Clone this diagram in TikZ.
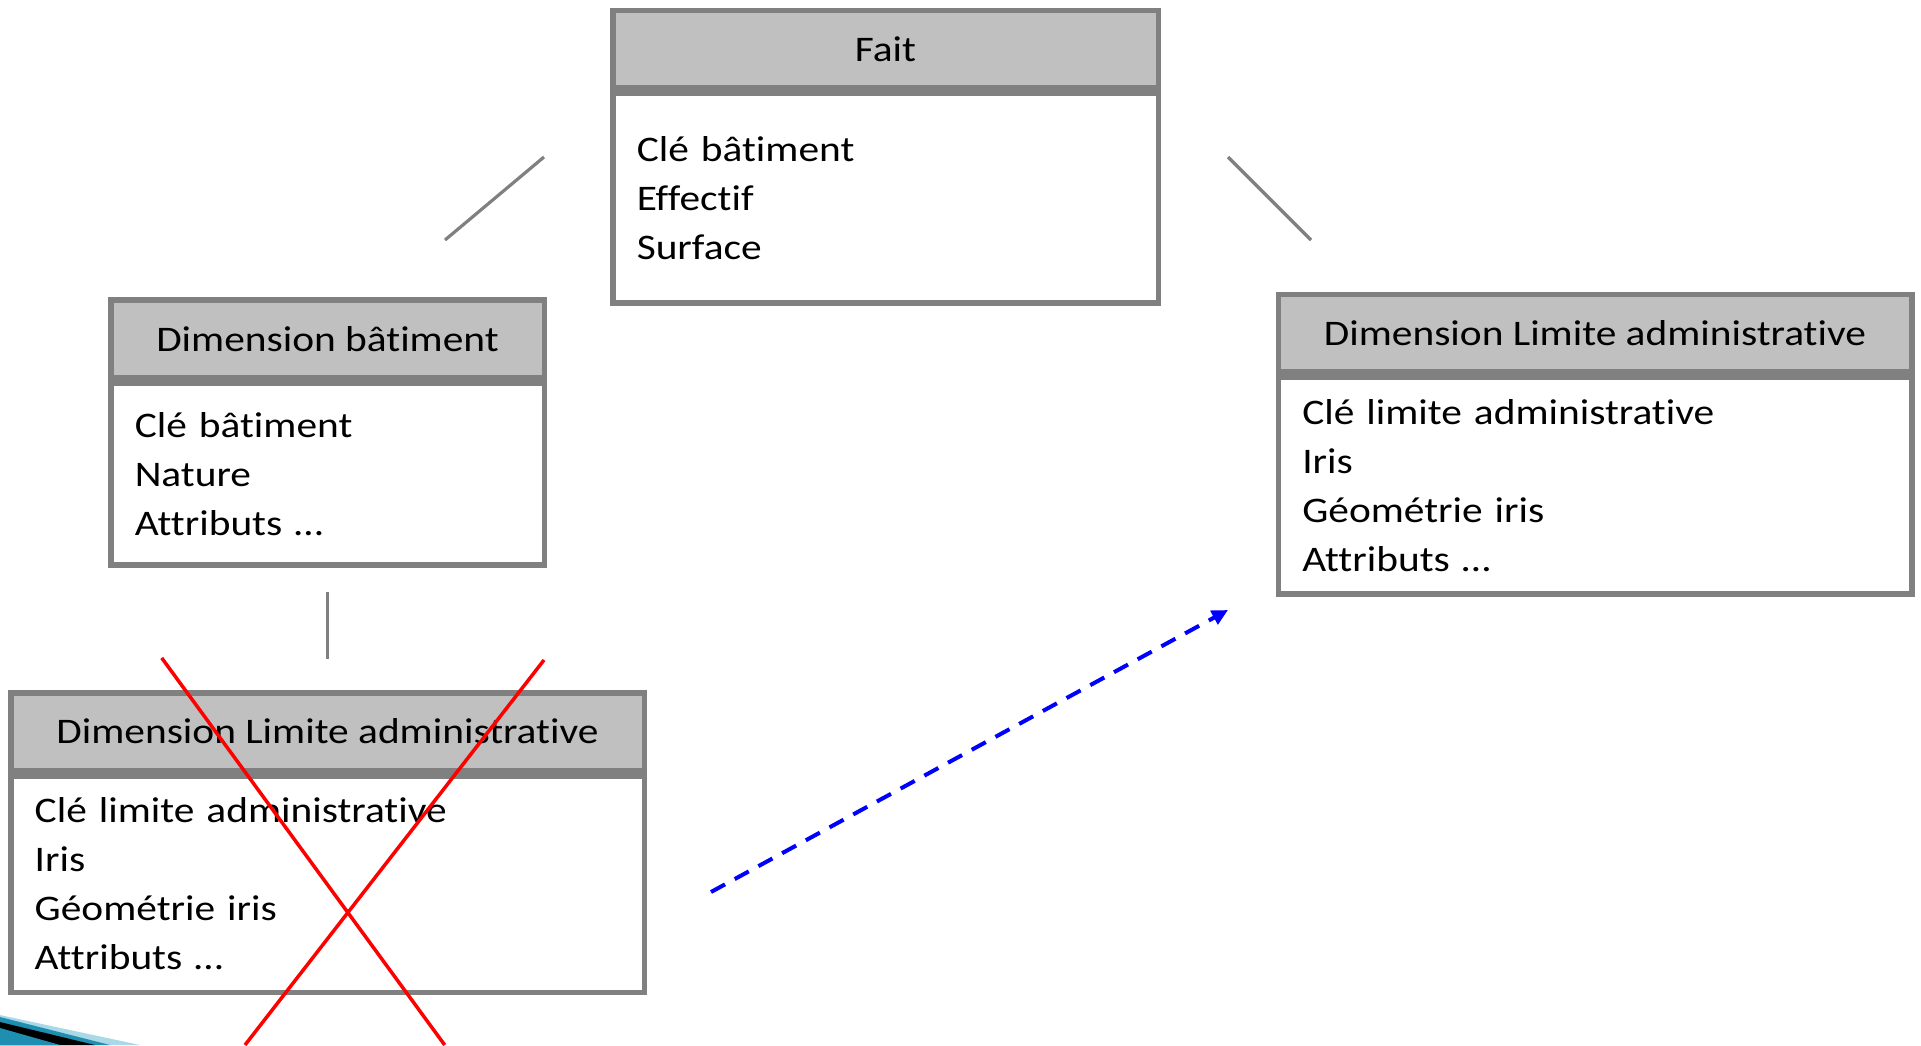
\documentclass[tikz,border=0pt]{standalone}
\usepackage{fontspec}
\setmainfont{Carlito}[FakeStretch=1.15, Ligatures=NoCommon]
\usetikzlibrary{positioning,arrows.meta}
\definecolor{boxline}{HTML}{808080}
\definecolor{boxhead}{HTML}{C0C0C0}
\definecolor{crossred}{HTML}{FF0000}
\definecolor{linkblue}{HTML}{0000FF}
\definecolor{decoteal}{HTML}{1E8FB0}
\definecolor{decolight}{HTML}{A9D8E6}

\begin{document}
\begin{tikzpicture}[
  x=0.5pt, y=-0.5pt,
  node distance=0pt,
  every node/.style={font=\fontsize{18}{24.5}\selectfont},
  head/.style={draw=boxline, line width=2.75pt, fill=boxhead, minimum width=#1, minimum height=38.75pt, inner sep=0pt},
  body/.style 2 args={draw=boxline, line width=2.75pt, fill=white, text width=#1, minimum height=#2, inner xsep=12pt, inner ysep=0pt, align=left},
  link/.style={draw=boxline, line width=1.6pt},
  cross/.style={draw=crossred, line width=1.75pt},
  arrow/.style={-{Triangle[length=8pt, width=7.5pt]}, draw=linkblue, line width=2pt, dash pattern=on 8pt off 5.5pt}
]
\useasboundingbox (0,0) rectangle (1921,1045);

% fact table
\node[head=272.75pt] (fait) at (885.5,49) {Fait};
\node[body={248.75pt}{104.75pt}] (fait-attr) [below=of fait] {Clé bâtiment\\Effectif\\Surface};

% dimensions
\node[head=216.75pt] (batiment) at (327.5,338.75) {Dimension bâtiment};
\node[body={192.75pt}{91pt}] (batiment-attr) [below=of batiment] {Clé bâtiment\\Nature\\Attributs …};

\node[head=316.75pt] (limite) at (1595,333) {Dimension Limite administrative};
\node[body={292.75pt}{108.25pt}] (limite-attr) [below=of limite] {Clé limite administrative\\Iris\\Géométrie iris\\Attributs …};

\node[head=316.75pt] (limite-old) at (327.5,731.5) {Dimension Limite administrative};
\node[body={292.75pt}{108.25pt}] (limite-old-attr) [below=of limite-old] {Clé limite administrative\\Iris\\Géométrie iris\\Attributs …};

% links
\coordinate (bat-end) at (445,240);
\coordinate (fait-w) at (544,157);
\coordinate (fait-e) at (1228,157);
\coordinate (lim-end) at (1311,240);
\draw[link] (bat-end) -- (fait-w);
\draw[link] (fait-e) -- (lim-end);
\draw[link, shorten <=12pt, shorten >=15.5pt] (batiment-attr.south) -- (limite-old.north);

% crossed out + moved
\coordinate (x1) at (161.7,657.9);
\coordinate (x2) at (444.7,1045);
\coordinate (x3) at (544,660);
\coordinate (x4) at (245,1045);
\draw[cross] (x1) -- (x2);
\draw[cross] (x3) -- (x4);

\coordinate (mv-from) at (711,892);
\coordinate (mv-to) at (1228,610);
\draw[arrow] (mv-from) -- (mv-to);

% slide corner
\fill[decolight] (0,1015) -- (140,1045) -- (0,1045) -- cycle;
\fill[decoteal] (0,1017) -- (110,1045) -- (0,1045) -- cycle;
\fill[black] (0,1022) -- (95,1045) -- (0,1045) -- cycle;
\fill[decoteal] (0,1028) -- (60,1045) -- (0,1045) -- cycle;
\end{tikzpicture}
\end{document}
